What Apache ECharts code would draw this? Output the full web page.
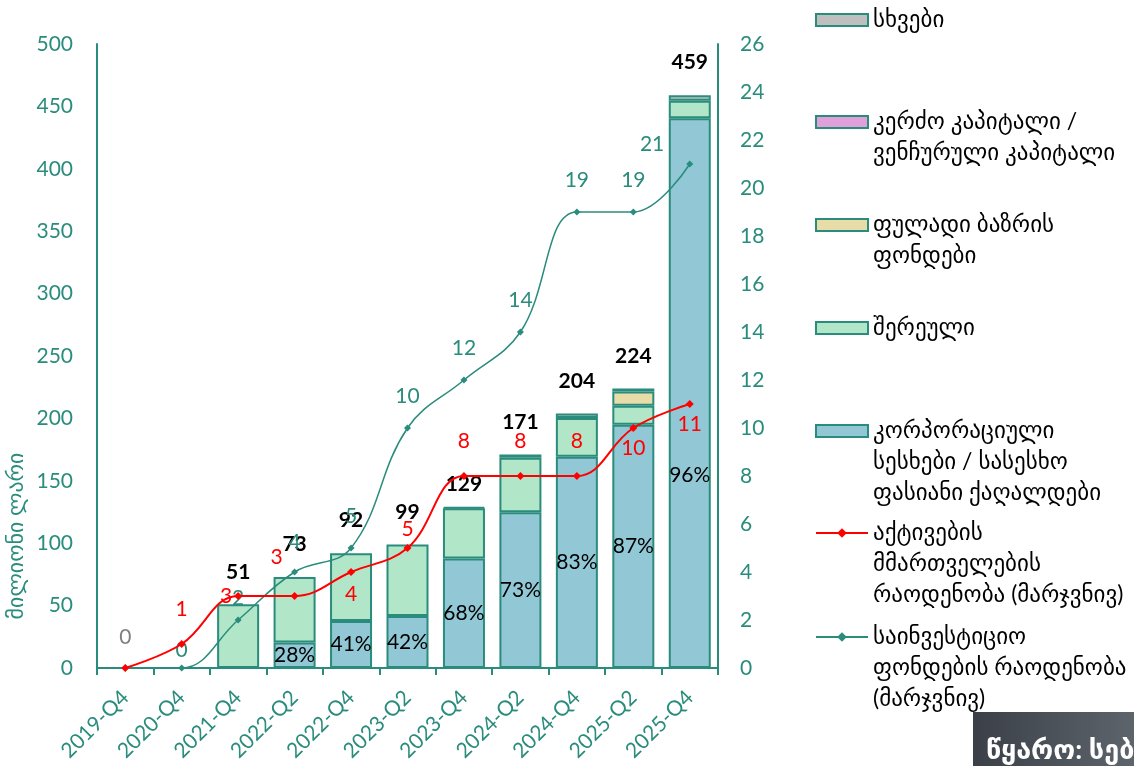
<!DOCTYPE html>
<html>
<head>
<meta charset="utf-8">
<script src="https://cdn.jsdelivr.net/npm/echarts@6/dist/echarts.min.js"></script>
<style>html,body{margin:0;padding:0;background:#fff}#c{width:1134px;height:766px}</style>
</head>
<body>
<div id="c"></div>
<script>
const categories = ['2019-Q4','2020-Q4','2021-Q4','2022-Q2','2022-Q4','2023-Q2','2023-Q4','2024-Q2','2024-Q4','2025-Q2','2025-Q4'];
const corporate = [null,null,null,20.5,37.7,41.6,87.7,124.8,169.3,194.9,440.6];
const mixed = [null,null,51,52.5,54.3,57.4,40.3,43.7,31,15.2,13.9];
const moneyMarket = [null,null,null,null,null,null,null,null,null,11.5,null];
const privateEquity = [null,null,null,null,null,null,null,null,null,null,null];
const others = [null,null,null,null,null,null,1,2.5,3.7,2.4,4.5];
const totals = [0,null,51,73,92,99,129,171,204,224,459];
const corporateShare = ['','','','28%','41%','42%','68%','73%','83%','87%','96%'];
const managers = [0,1,3,3,4,5,8,8,8,10,11];
const funds = [0,0,2,4,5,10,12,14,19,19,21];

const names = {
  others: 'სხვები',
  pe: 'კერძო კაპიტალი /\nვენჩურული კაპიტალი',
  mm: 'ფულადი ბაზრის\nფონდები',
  mixed: 'შერეული',
  corp: 'კორპორაციული\nსესხები / სასესხო\nფასიანი ქაღალდები',
  managers: 'აქტივების\nმმართველების\nრაოდენობა (მარჯვნივ)',
  funds: 'საინვესტიციო\nფონდების რაოდენობა\n(მარჯვნივ)'
};

const TEAL = '#2A8C7C';
const FONT = 'Lato, "DejaVu Sans", sans-serif';
const LH = 31;

function barSeries(name, data, color) {
  return {
    name: name, type: 'bar', stack: 'a', data: data, barWidth: 42,
    itemStyle: { color: color, borderColor: TEAL, borderWidth: 2 },
    z: 2
  };
}

const corpSeries = barSeries(names.corp, corporate.map((v, i) => {
  if (i === 10) return { value: v, label: { offset: [0, 82] } };
  return v;
}), '#92C8D5');
corpSeries.label = {
  show: true, position: 'inside', color: '#000', fontSize: 21, fontFamily: FONT,
  formatter: p => corporateShare[p.dataIndex]
};

const totalSeries = {
  name: 'total', type: 'bar', data: totals.map((v, i) => {
    if (i === 0) return { value: v, label: { color: '#7f7f7f', fontWeight: 'normal', distance: 20 } };
    if (i === 6) return { value: v, label: { distance: 12 } };
    return v;
  }),
  barWidth: 42, barGap: '-100%', z: 1, silent: true,
  itemStyle: { color: 'rgba(0,0,0,0)' },
  label: { show: true, position: 'top', distance: 22, color: '#000', fontWeight: 'bold', fontSize: 21, fontFamily: FONT }
};

const mgrLabelCfg = [
  { show: false },
  { position: 'top', distance: 20 },
  { position: 'left', distance: 2 },
  { position: 'top', offset: [-18, -14], distance: 10 },
  { position: 'bottom', distance: 8 },
  { position: 'top', distance: 4 },
  { position: 'top', distance: 20 },
  { position: 'top', distance: 20 },
  { position: 'top', distance: 20 },
  { position: 'bottom', distance: 6 },
  { position: 'bottom', distance: 6 }
];
const fundLabelCfg = [
  { show: false },
  { position: 'top', distance: 4 },
  { position: 'top', distance: 8 },
  { position: 'top', distance: 16 },
  { position: 'top', distance: 18 },
  { position: 'top', distance: 18 },
  { position: 'top', distance: 18 },
  { position: 'top', distance: 18 },
  { position: 'top', distance: 18 },
  { position: 'top', distance: 18 },
  { position: 'left', offset: [-14, -20], distance: 8 }
];

function legendItem(name, c, lines, icon) {
  return {
    show: true, left: 815, top: c - lines * LH + LH / 2, orient: 'vertical', padding: 0,
    itemWidth: 52, itemHeight: 12, itemGap: 0,
    data: [{ name: name, icon: icon }],
    selectedMode: false,
    formatter: n => '\n'.repeat(lines - 1) + n,
    textStyle: { fontSize: 23, fontFamily: FONT, color: '#000', lineHeight: LH }
  };
}

const option = {
  animation: false,
  backgroundColor: '#fff',
  grid: { left: 97, right: 416, top: 44, bottom: 98, containLabel: false },
  legend: [
    legendItem(names.others, 20, 1, 'rect'),
    legendItem(names.pe, 122, 2, 'rect'),
    legendItem(names.mm, 225, 2, 'rect'),
    legendItem(names.mixed, 328, 1, 'rect'),
    legendItem(names.corp, 431, 3, 'rect'),
    legendItem(names.managers, 533, 3),
    legendItem(names.funds, 637, 3)
  ],
  xAxis: {
    type: 'category', data: categories, boundaryGap: true,
    axisLine: { lineStyle: { color: TEAL, width: 2 } },
    axisTick: { show: true, length: 7, lineStyle: { color: TEAL, width: 2 }, alignWithLabel: false },
    axisLabel: { rotate: 45, color: TEAL, fontSize: 21, fontFamily: FONT, margin: 26, interval: 0 }
  },
  yAxis: [
    {
      type: 'value', min: 0, max: 500, interval: 50,
      axisLine: { show: true, lineStyle: { color: TEAL, width: 2 } },
      axisTick: { show: false }, splitLine: { show: false },
      axisLabel: { color: TEAL, fontSize: 21, fontFamily: FONT, margin: 24 }
    },
    {
      type: 'value', min: 0, max: 26, interval: 2, position: 'right',
      axisLine: { show: true, lineStyle: { color: TEAL, width: 2 } },
      axisTick: { show: false }, splitLine: { show: false },
      axisLabel: { color: TEAL, fontSize: 21, fontFamily: FONT, margin: 22 }
    }
  ],
  series: [
    corpSeries,
    barSeries(names.mixed, mixed, '#B2E6C9'),
    barSeries(names.mm, moneyMarket, '#E8DCA8'),
    barSeries(names.pe, privateEquity, '#E0A0DA'),
    barSeries(names.others, others, '#BFBFBF'),
    totalSeries,
    {
      name: names.managers, type: 'line', yAxisIndex: 1, smooth: 0.4, z: 5,
      data: managers.map((v, i) => ({ value: v, label: mgrLabelCfg[i] })),
      lineStyle: { color: '#FF0000', width: 2 }, itemStyle: { color: '#FF0000' },
      symbol: 'diamond', symbolSize: 8,
      label: { show: true, color: '#FF0000', fontSize: 21, fontFamily: FONT }
    },
    {
      name: names.funds, type: 'line', yAxisIndex: 1, smooth: 0.4, z: 4,
      data: funds.map((v, i) => ({ value: v, label: fundLabelCfg[i] })),
      lineStyle: { color: TEAL, width: 1.5 }, itemStyle: { color: TEAL },
      symbol: 'diamond', symbolSize: 7,
      label: { show: true, color: TEAL, fontSize: 21, fontFamily: FONT }
    }
  ],
  graphic: [
    {
      type: 'text', x: 16, y: 536, rotation: Math.PI / 2,
      style: { text: 'მილიონი ლარი', fill: TEAL, font: '22px ' + FONT, align: 'center', verticalAlign: 'middle' }
    },
    {
      type: 'rect', shape: { x: 973, y: 712, width: 161, height: 54 },
      style: { fill: new echarts.graphic.LinearGradient(0, 0, 1, 0, [{ offset: 0, color: '#3b4048' }, { offset: 1, color: '#5d646b' }]) }
    },
    {
      type: 'text', x: 986, y: 750,
      style: { text: 'წყარო: სებ', fill: '#fff', font: 'bold 27px ' + FONT, verticalAlign: 'middle' }
    }
  ]
};

const chart = echarts.init(document.getElementById('c'), null, { renderer: 'canvas' });
chart.setOption(option);
</script>
</body>
</html>
